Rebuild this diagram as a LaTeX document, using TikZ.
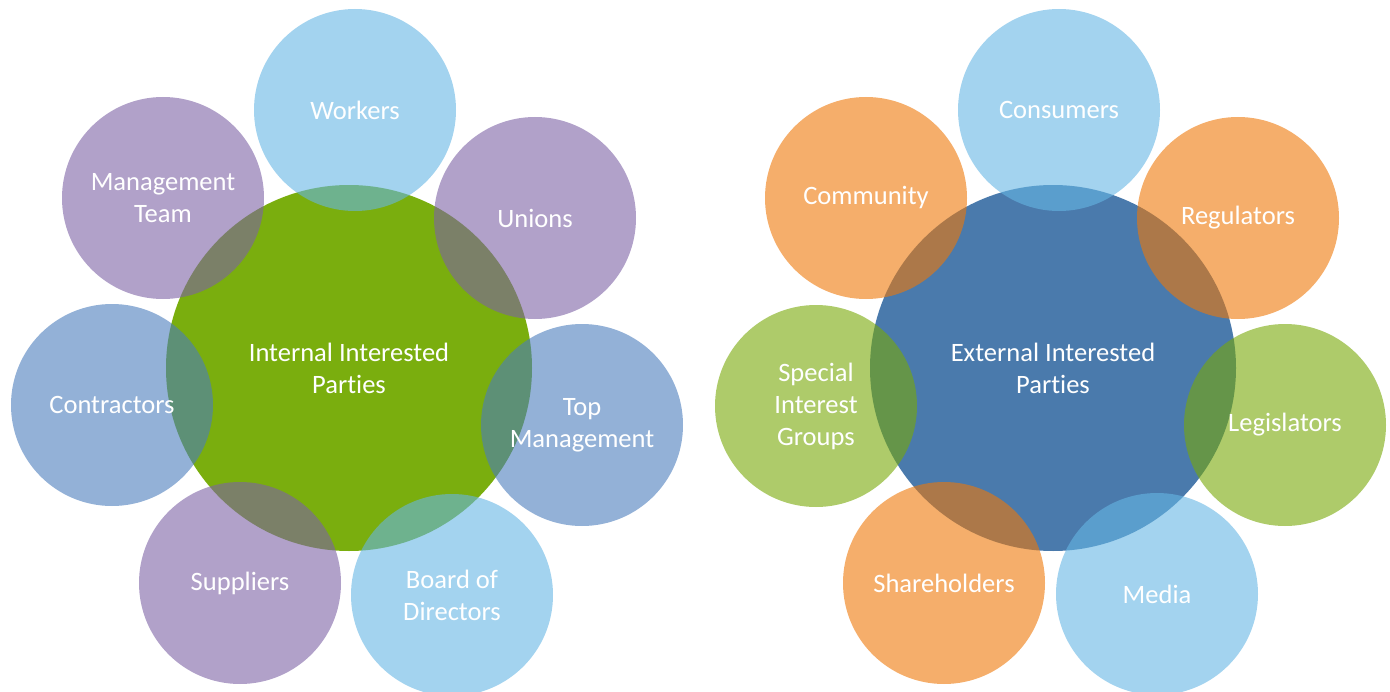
\documentclass[tikz,border=0pt]{standalone}
\usepackage{fontspec}
\setmainfont{Carlito}[Ligatures={NoCommon,NoContextual}]
\definecolor{hijau}{HTML}{7AAE0E}
\definecolor{biru}{HTML}{4A7AAC}
\definecolor{langit}{HTML}{66B6E4}
\definecolor{ungu}{HTML}{7D62A5}
\definecolor{baja}{HTML}{4B7DBC}
\definecolor{jingga}{HTML}{EE7808}
\definecolor{daun}{HTML}{78A807}
\begin{document}
\begin{tikzpicture}[x=0.75pt,y=-0.75pt,
      teks/.style={text=white,align=center,font=\fontsize{19.9}{24}\selectfont},
      inti/.style={teks,circle,inner sep=0pt,minimum size=274.5pt},
      satelit/.style={teks,circle,inner sep=0pt,minimum size=151.5pt,
        fill opacity=0.6,text opacity=1}]
    \useasboundingbox (0,0) rectangle (1390,692);
    % Kelompok kiri: pihak internal
    \begin{scope}
      \node[inti,fill=hijau] (pusat) at (349,368) {Internal Interested\\Parties};
      \node[satelit,fill=langit] (pekerja) at (355,110) {Workers};
      \node[satelit,fill=ungu] (serikat) at (535,218) {Unions};
      \node[satelit,fill=baja] (puncak) at (582,425) {Top\\Management};
      \node[satelit,fill=langit] (direksi) at (452,595) {Board of\\Directors};
      \node[satelit,fill=ungu] (pemasok) at (240,583) {Suppliers};
      \node[satelit,fill=baja] (kontraktor) at (112,405) {Contractors};
      \node[satelit,fill=ungu] (manajemen) at (163,198) {Management\\Team};
    \end{scope}
    % Kelompok kanan: pihak eksternal
    \begin{scope}
      \node[inti,fill=biru] (pusat2) at (1053,368) {External Interested\\Parties};
      \node[satelit,fill=langit] (konsumen) at (1059,110) {Consumers};
      \node[satelit,fill=jingga] (regulator) at (1238,218) {Regulators};
      \node[satelit,fill=daun] (legislator) at (1285,425) {Legislators};
      \node[satelit,fill=langit] (media) at (1157,594) {Media};
      \node[satelit,fill=jingga] (pemegang) at (944,583) {Shareholders};
      \node[satelit,fill=daun] (khusus) at (816,406) {Special\\Interest\\Groups};
      \node[satelit,fill=jingga] (komunitas) at (866,198) {Community};
    \end{scope}
  \end{tikzpicture}
\end{document}
